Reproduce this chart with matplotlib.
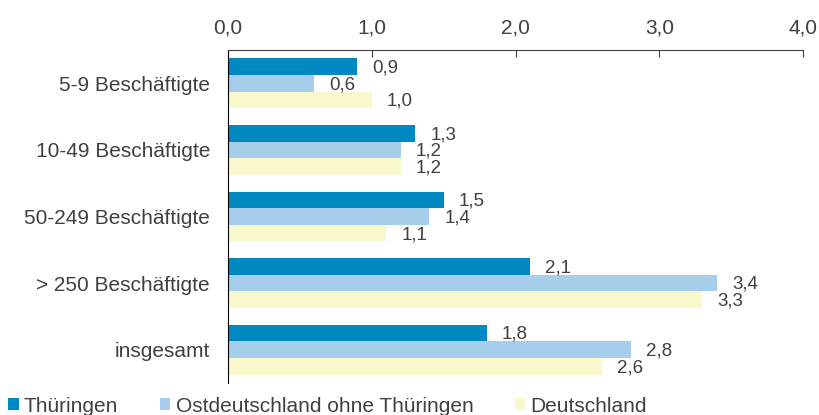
import matplotlib.pyplot as plt
import numpy as np

plt.rcParams['font.family'] = ['Liberation Sans', 'DejaVu Sans']

# Data
categories = ['5-9 Beschäftigte', '10-49 Beschäftigte', '50-249 Beschäftigte',
              '> 250 Beschäftigte', 'insgesamt']
series_names = ['Thüringen', 'Ostdeutschland ohne Thüringen', 'Deutschland']
thueringen = [0.9, 1.3, 1.5, 2.1, 1.8]
ostdeutschland = [0.6, 1.2, 1.4, 3.4, 2.8]
deutschland = [1.0, 1.2, 1.1, 3.3, 2.6]
x_ticks = [0, 1, 2, 3, 4]

colors = ['#0088C0', '#A6CDEA', '#F8F8CC']
text_col = '#404040'

fig = plt.figure(figsize=(8.19, 4.15), dpi=100)
ax = fig.add_axes([228 / 819, 1 - 383 / 415, (803 - 228) / 819, 333 / 415])

y = np.arange(len(categories))
h = 0.25
all_series = [thueringen, ostdeutschland, deutschland]
for i, (vals, col, name) in enumerate(zip(all_series, colors, series_names)):
    pos = y + (i - 1) * h
    ax.barh(pos, vals, height=h, color=col, label=name)
    # value labels next to the bar ends
    for p, v in zip(pos, vals):
        ax.annotate(f'{v:.1f}'.replace('.', ','), (v, p), xytext=(11, -1),
                    textcoords='offset points', va='center', ha='left',
                    fontsize=13.5, color=text_col)

ax.set_xlim(0, 4)
ax.set_ylim(len(categories) - 0.5, -0.5)
ax.set_xticks(x_ticks)
ax.set_xticklabels([f'{t:.1f}'.replace('.', ',') for t in x_ticks])
ax.xaxis.tick_top()
ax.tick_params(axis='x', direction='in', length=5, colors='#404040',
               labelsize=15, pad=9, labelcolor=text_col)
ax.set_yticks(y)
ax.set_yticklabels(categories)
ax.tick_params(axis='y', length=0, labelsize=15, pad=13, labelcolor=text_col)

ax.spines['right'].set_visible(False)
ax.spines['bottom'].set_visible(False)
ax.spines['top'].set_color('#404040')
ax.spines['left'].set_color('black')

# legend along the bottom edge
handles, labels = ax.get_legend_handles_labels()
fig.legend(handles, labels, loc='lower left', bbox_to_anchor=(0.0, -0.022),
           ncol=3, frameon=False, fontsize=15, handlelength=0.5,
           handleheight=0.5, handletextpad=0.25, columnspacing=2.0,
           labelcolor=text_col, borderaxespad=0)

# cut-off title at the top
fig.text(0.1, 1.015, 'Abbildung', fontsize=15, va='bottom', color='black')

fig.savefig('out.png', dpi=100)
